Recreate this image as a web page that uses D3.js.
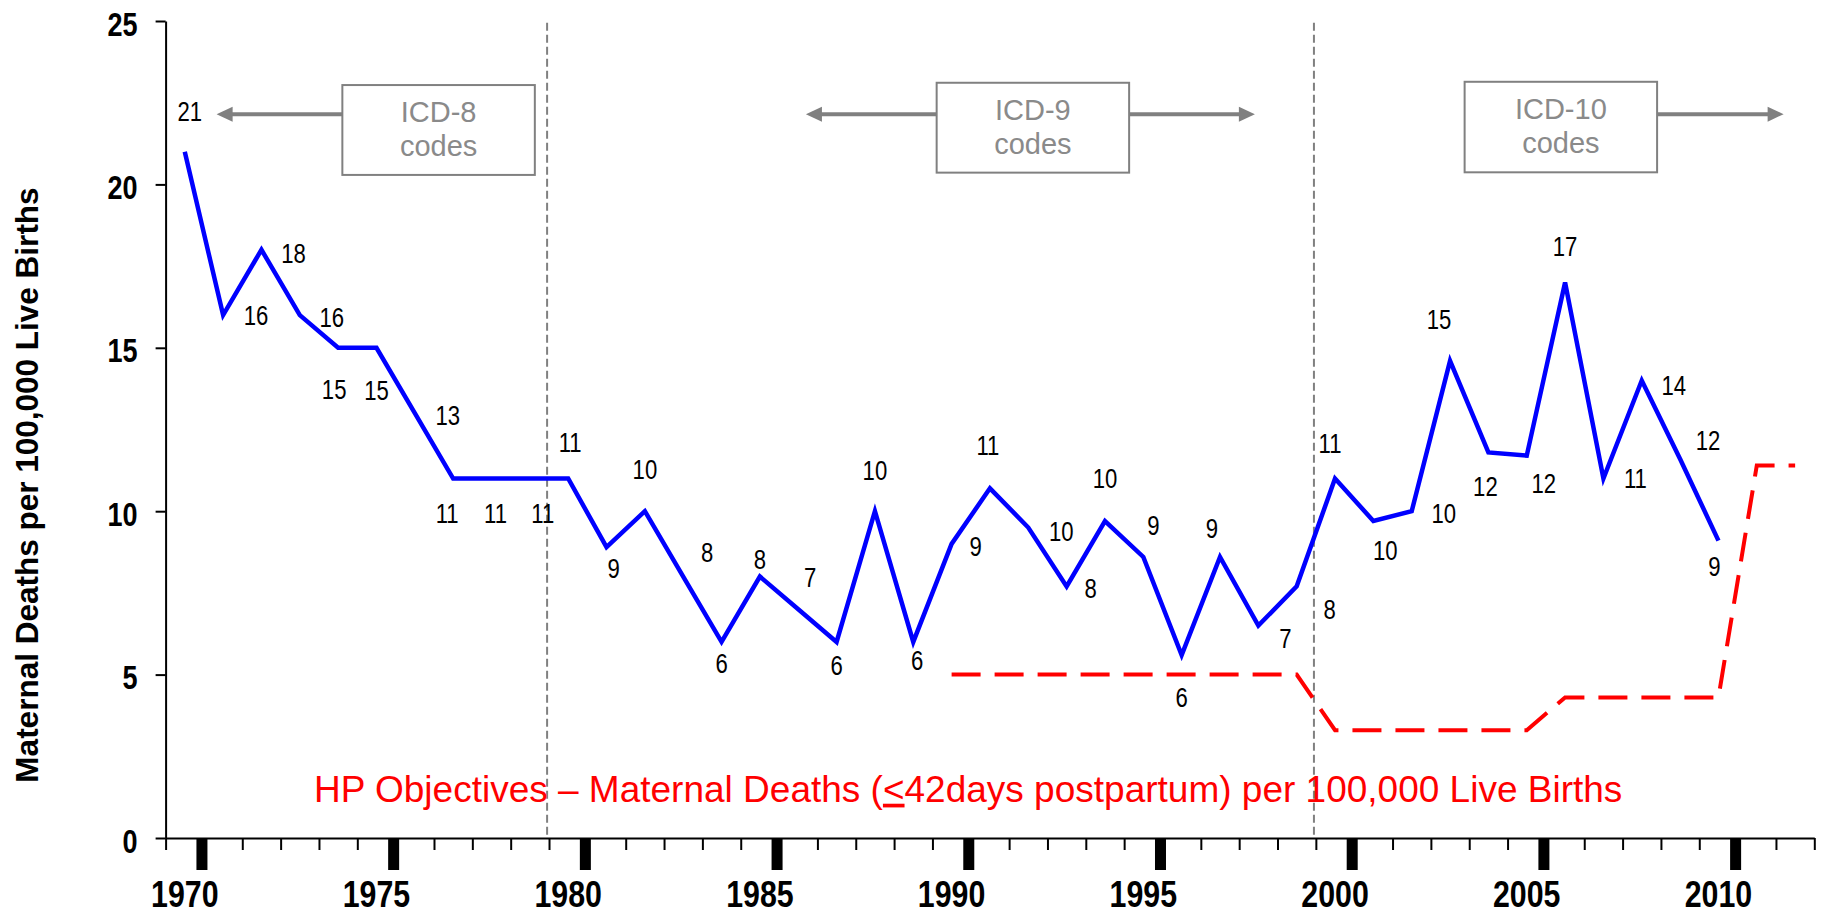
<!DOCTYPE html>
<html>
<head>
<meta charset="utf-8">
<script src="https://cdn.jsdelivr.net/npm/d3@7"></script>
<style>
  html, body { margin: 0; padding: 0; background: #ffffff; }
  svg { display: block; }
  text { font-family: "Liberation Sans", Arial, sans-serif; }
</style>
</head>
<body>
<svg id="chart" width="1822" height="915"></svg>
<script>
// Maternal deaths per 100,000 live births, by year
const years = [1970, 1971, 1972, 1973, 1974, 1975, 1976, 1977, 1978, 1979,
               1980, 1981, 1982, 1983, 1984, 1985, 1986, 1987, 1988, 1989,
               1990, 1991, 1992, 1993, 1994, 1995, 1996, 1997, 1998, 1999,
               2000, 2001, 2002, 2003, 2004, 2005, 2006, 2007, 2008, 2009, 2010];
const rates = [21.0, 16.0, 18.0, 16.0, 15.0, 15.0, 13.0, 11.0, 11.0, 11.0,
               11.0, 8.9, 10.0, 8.0, 6.0, 8.0, 7.0, 6.0, 10.0, 6.0,
               9.0, 10.7, 9.5, 7.7, 9.7, 8.6, 5.6, 8.6, 6.5, 7.7,
               11.0, 9.7, 10.0, 14.6, 11.8, 11.7, 17.0, 11.0, 14.0, 11.6, 9.1];

// Healthy People objective for maternal deaths (<=42 days postpartum)
const hpYears = [1990, 1991, 1992, 1993, 1994, 1995, 1996, 1997, 1998, 1999,
                 2000, 2001, 2002, 2003, 2004, 2005,
                 2006, 2007, 2008, 2009, 2010,
                 2011, 2012];
const hpTargets = [5.0, 5.0, 5.0, 5.0, 5.0, 5.0, 5.0, 5.0, 5.0, 5.0,
                   3.3, 3.3, 3.3, 3.3, 3.3, 3.3,
                   4.3, 4.3, 4.3, 4.3, 4.3,
                   11.4, 11.4];

// Axis ticks
const yTicks = [0, 5, 10, 15, 20, 25];
const xTickLabels = [1970, 1975, 1980, 1985, 1990, 1995, 2000, 2005, 2010];
const xCategories = [1970, 1971, 1972, 1973, 1974, 1975, 1976, 1977, 1978, 1979,
                     1980, 1981, 1982, 1983, 1984, 1985, 1986, 1987, 1988, 1989,
                     1990, 1991, 1992, 1993, 1994, 1995, 1996, 1997, 1998, 1999,
                     2000, 2001, 2002, 2003, 2004, 2005, 2006, 2007, 2008, 2009,
                     2010, 2011, 2012];

// Coding-revision periods
const icdNames = ["ICD-8", "ICD-9", "ICD-10"];
const icdBreaks = [1979.45, 1999.45];

// Placement of each value label relative to its point (px)
const labelOffsets = [
  [5, -31], [33, 10], [32, 13], [32, 12], [-4, 51], [0, 52], [33, 12], [-6, 44], [4, 44], [13, 44],
  [2, -27], [7, 31], [0, -32], [24, -15], [0, 31], [0, -8], [12, -22], [0, 33], [0, -31], [4, 28],
  [24, 12], [-2, -33], [33, 13], [24, 12], [0, -33], [10, -22], [0, 52], [-8, -19], [27, 22], [33, 33],
  [-5, -26], [12, 39], [32, 12], [-11, -32], [-3, 44], [17, 37], [0, -26], [32, 9], [32, 15], [28, -9],
  [-4, 35]
];

// horizontal squeeze that gives a condensed face
const NARROW = 0.82;

const svg = d3.select("#chart");

const x = d3.scaleLinear().domain([1969.5, 2012.5]).range([165.6, 1814.3]);
const y = d3.scaleLinear().domain([0, 25]).range([838, 21]);

const series = years.map((yr, i) => ({ year: yr, value: rates[i] }));
const hpSeries = hpYears.map((yr, i) => ({ year: yr, value: hpTargets[i] }));

// ---- Y axis ----
const yAxis = d3.axisLeft(y).tickValues(yTicks).tickSize(10).tickSizeOuter(0).tickPadding(18)
  .tickFormat(d3.format("d"));
const gy = svg.append("g").attr("transform", `translate(${x(1969.5)},0)`).call(yAxis);
gy.select(".domain").attr("stroke", "#000").attr("stroke-width", 2);
gy.selectAll(".tick line").attr("stroke", "#000").attr("stroke-width", 2);
gy.selectAll(".tick text")
  .attr("x", null)
  .attr("transform", `translate(-28,0) scale(${NARROW},1)`)
  .attr("font-size", 33).attr("font-weight", "bold").attr("fill", "#000")
  .attr("font-family", "Liberation Sans, Arial, sans-serif")
  .attr("dy", "0.43em");

// ---- X axis: a small tick at every category boundary ----
const boundaries = xCategories.map(c => c - 0.5).concat([xCategories[xCategories.length - 1] + 0.5]);
const xAxis = d3.axisBottom(x).tickValues(boundaries).tickSize(12).tickSizeOuter(0).tickFormat("");
const gx = svg.append("g").attr("transform", `translate(0,${y(0)})`).call(xAxis);
gx.select(".domain").attr("stroke", "#000").attr("stroke-width", 2);
gx.selectAll(".tick line").attr("stroke", "#000").attr("stroke-width", 2);

// heavy marks for every fifth year, label centred on the category
const major = svg.append("g");
major.selectAll("rect").data(xTickLabels).join("rect")
  .attr("x", d => x(d + 0.5) - 2 - 5.5)
  .attr("y", y(0))
  .attr("width", 11)
  .attr("height", 32)
  .attr("fill", "#000");
major.selectAll("text").data(xTickLabels).join("text")
  .attr("transform", d => `translate(${x(d)},907) scale(${NARROW},1)`)
  .attr("text-anchor", "middle")
  .attr("font-size", 37).attr("font-weight", "bold").attr("fill", "#000")
  .text(d => d);

// ---- Y title ----
svg.append("text")
  .attr("transform", "translate(38,485) rotate(-90)")
  .attr("text-anchor", "middle")
  .attr("font-size", 31.5).attr("font-weight", "bold").attr("fill", "#000")
  .text("Maternal Deaths per 100,000 Live Births");

// ---- ICD revision boundaries ----
svg.append("g").selectAll("line").data(icdBreaks).join("line")
  .attr("x1", d => x(d)).attr("x2", d => x(d))
  .attr("y1", y(24.95)).attr("y2", y(0))
  .attr("stroke", "#808080").attr("stroke-width", 2).attr("stroke-dasharray", "8,4");

// ---- HP objective line ----
const line = d3.line().x(d => x(d.year)).y(d => y(d.value));
svg.append("path").datum(hpSeries)
  .attr("d", line)
  .attr("fill", "none")
  .attr("stroke", "#ff0000").attr("stroke-width", 4)
  .attr("stroke-dasharray", "29,14");

// ---- Maternal death rate line ----
svg.append("path").datum(series)
  .attr("d", line)
  .attr("fill", "none")
  .attr("stroke", "#0000ff").attr("stroke-width", 4.5)
  .attr("stroke-linejoin", "miter");

// value labels
svg.append("g").selectAll("text").data(series).join("text")
  .attr("transform", (d, i) =>
    `translate(${x(d.year) + labelOffsets[i][0]},${y(d.value) + labelOffsets[i][1]}) scale(${NARROW},1)`)
  .attr("text-anchor", "middle")
  .attr("font-size", 27).attr("fill", "#000")
  .text(d => Math.round(d.value));

// ---- ICD period boxes with arrows ----
const boxes = [
  { name: icdNames[0], x0: 1974.11, x1: 1979.13, y0: 23.04, y1: 20.29, arrows: [1970.83] },
  { name: icdNames[1], x0: 1989.61, x1: 1994.63, y0: 23.11, y1: 20.36, arrows: [1986.2, 1997.91] },
  { name: icdNames[2], x0: 2003.38, x1: 2008.40, y0: 23.14, y1: 20.37, arrows: [2011.7] }
];
const arrowY = 22.15;
const gray = "#808080";
const ann = svg.append("g");
boxes.forEach(b => {
  const bx0 = x(b.x0), bx1 = x(b.x1), by0 = y(b.y0), by1 = y(b.y1);
  const ay = y(arrowY);
  b.arrows.forEach(tip => {
    const tx = x(tip);
    const dir = tx < bx0 ? -1 : 1;
    const start = dir < 0 ? bx0 : bx1;
    ann.append("line")
      .attr("x1", start).attr("x2", tx - dir * 12)
      .attr("y1", ay).attr("y2", ay)
      .attr("stroke", gray).attr("stroke-width", 4);
    ann.append("path")
      .attr("d", `M${tx},${ay} L${tx - dir * 16},${ay - 7.5} L${tx - dir * 16},${ay + 7.5} Z`)
      .attr("fill", gray);
  });
  ann.append("rect")
    .attr("x", bx0).attr("y", by0)
    .attr("width", bx1 - bx0).attr("height", by1 - by0)
    .attr("fill", "#fff").attr("stroke", gray).attr("stroke-width", 2);
  const cx = (bx0 + bx1) / 2;
  ann.append("text")
    .attr("x", cx).attr("y", by0 + 37)
    .attr("text-anchor", "middle").attr("font-size", 29).attr("fill", "#8a8a8a")
    .text(b.name);
  ann.append("text")
    .attr("x", cx).attr("y", by0 + 71)
    .attr("text-anchor", "middle").attr("font-size", 29).attr("fill", "#8a8a8a")
    .text("codes");
});

// ---- HP objective caption ----
const cap = svg.append("text")
  .attr("x", x(1973.37)).attr("y", y(1.11))
  .attr("font-size", 37).attr("fill", "#ff0000");
cap.append("tspan").text("HP Objectives \u2013 Maternal Deaths (");
cap.append("tspan").attr("text-decoration", "underline").text("<");
cap.append("tspan").text("42days postpartum) per 100,000 Live Births");
</script>
</body>
</html>
